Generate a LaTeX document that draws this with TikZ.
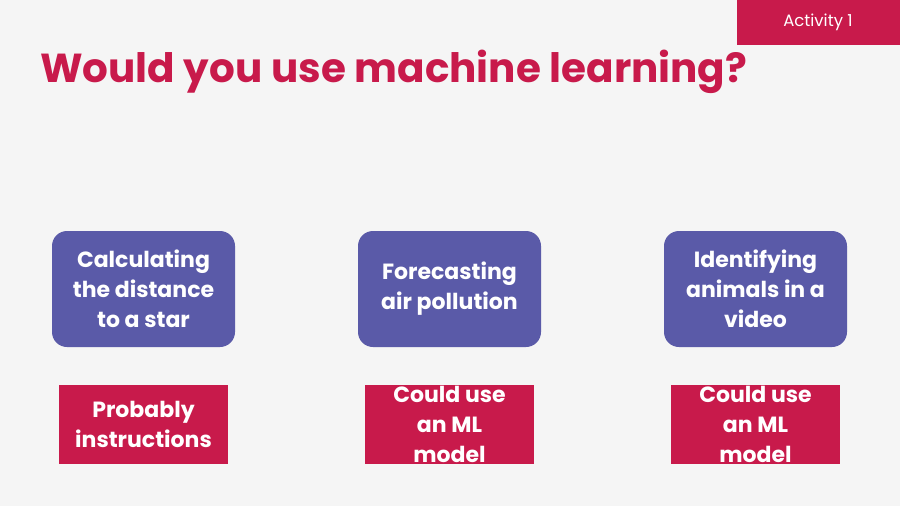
\documentclass[tikz,border=0pt]{standalone}
\usepackage{fontspec}
\setmainfont{Poppins}
\definecolor{crim}{HTML}{C81A4B}
\definecolor{purp}{HTML}{5A5AA8}
\definecolor{bg}{HTML}{F5F5F5}
\begin{document}
\begin{tikzpicture}[x=1pt,y=-1pt,
  qbox/.style={fill=purp,rounded corners=15pt,minimum width=183pt,minimum height=116pt,inner sep=0pt},
  abox/.style={fill=crim,minimum width=169pt,minimum height=79pt,inner sep=0pt},
  btext/.style={text=white,font=\fontsize{22}{30}\selectfont\bfseries,align=center}]
\fill[bg] (0,0) rectangle (900,506);
\useasboundingbox (0,0) rectangle (900,506);
\fill[crim] (737,0) rectangle (900,45);
\node[text=white,font=\fontsize{16.5}{18}\selectfont] (act) at (818,22) {Activity 1};
\node[text=crim,font=\fontsize{40.5}{46}\selectfont\bfseries,anchor=base west,inner sep=0pt] (title) at (40,82) {Would you use machine learning?};
\node[qbox] (q1) at (143.5,289) {};
\node[qbox] (q2) at (449.5,289) {};
\node[qbox] (q3) at (755.5,289) {};
\node[btext] at (q1) {Calculating\\the distance\\to a star};
\node[btext] at (q2) {Forecasting\\air pollution};
\node[btext] at (q3) {Identifying\\animals in a\\video};
\node[abox] (a1) at (143.5,424.5) {};
\node[abox] (a2) at (449.5,424.5) {};
\node[abox] (a3) at (755.5,424.5) {};
\node[btext] at (a1) {Probably\\instructions};
\node[btext] at (a2) {Could use\\an ML\\model};
\node[btext] at (a3) {Could use\\an ML\\model};
\end{tikzpicture}
\end{document}
